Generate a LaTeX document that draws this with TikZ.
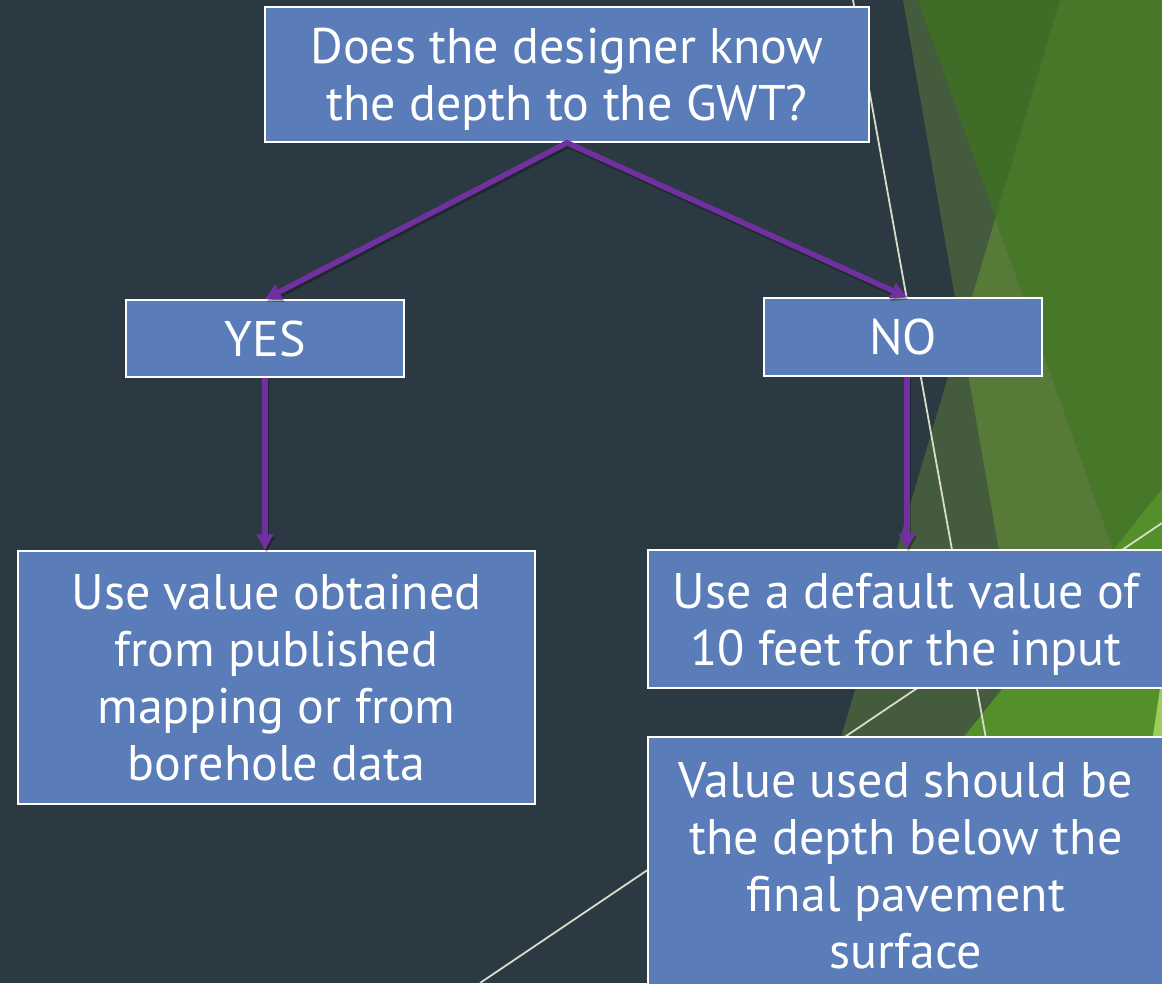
\documentclass[tikz,border=0pt]{standalone}
\usepackage{fontspec}
\setmainfont{PT Sans}
\usetikzlibrary{arrows.meta,calc}
\definecolor{bgslate}{HTML}{2B3A42}
\definecolor{grayg}{HTML}{445C3D}
\definecolor{oliveg}{HTML}{587A38}
\definecolor{darkg}{HTML}{3F6C26}
\definecolor{midg}{HTML}{47782A}
\definecolor{brightg}{HTML}{53902A}
\definecolor{lightg}{HTML}{9CCC5C}
\definecolor{linewhite}{HTML}{D8DCCB}
\definecolor{boxblue}{HTML}{5A7DBA}
\definecolor{arrowpurple}{HTML}{7030A0}
\tikzset{
  flowbox/.style={draw=white, line width=1.5pt, fill=boxblue, text=white, inner sep=0pt, align=center, text depth=0pt, font=\fontsize{50}{57}\selectfont},
  flowarrow/.style={draw=arrowpurple, line width=5.5pt, line join=miter},
  arrowshadow/.style={draw=black, opacity=0.3, line width=5.5pt, line join=miter, transform canvas={shift={(1.5pt,-2.5pt)}}},
  thinline/.style={draw=linewhite, line width=1.8pt}
}
\begin{document}
\begin{tikzpicture}[x=1pt,y=-1pt]
\useasboundingbox (0,0) rectangle (1162,983);
% background
\fill[bgslate] (0,0) rectangle (1162,983);
% green facets
\fill[grayg] (903,0) -- (1162,0) -- (1162,983) -- (1075,983) -- cycle;
\fill[grayg] (1060,0) -- (1162,0) -- (1162,983) -- (768,983) -- cycle;
\fill[oliveg] (995.5,218) -- (1162,687) -- (1162,983) -- (1075,983) -- (961,334) -- cycle;
\fill[darkg] (918,0) -- (1060,0) -- (995.5,218) -- cycle;
\fill[midg] (1060,0) -- (1162,0) -- (1162,687) -- (995.5,218) -- cycle;
\fill[brightg] (1162,489) -- (1162,983) -- (767,983) -- cycle;
\fill[lightg] (1162,675) -- (1162,983) -- (1116,983) -- cycle;
% thin lines
\coordinate (w1a) at (853,0);
\coordinate (w1b) at (1030,983);
\coordinate (w2a) at (480,983);
\coordinate (w2b) at (1162,523);
\draw[thinline] (w1a) -- (w1b);
\draw[thinline] (w2a) -- (w2b);
% boxes
\node[flowbox, minimum width=604pt, minimum height=135pt] (top) at (567,74.5) {Does the designer know\\the depth to the GWT?};
\node[flowbox, minimum width=278pt, minimum height=77pt] (yes) at (265,338.5) {YES};
\node[flowbox, minimum width=278pt, minimum height=78pt] (no) at (903,337) {NO};
\node[flowbox, minimum width=517pt, minimum height=253pt] (box4) at (276.5,677.5) {Use value obtained\\from published\\mapping or from\\borehole data};
\node[flowbox, minimum width=516pt, minimum height=138pt] (box5) at (906,619) {Use a default value of\\10 feet for the input};
\node[flowbox, minimum width=516pt, minimum height=256pt] (box6) at (906,865) {Value used should be\\the depth below the\\final pavement\\surface};
% arrows
\draw[arrowshadow, {Triangle[width=16pt,length=16pt]}-{Triangle[width=16pt,length=16pt]}] (yes.north) -- (top.south) -- ([xshift=4pt]no.north);
\draw[arrowshadow, -{Triangle[width=16pt,length=16pt]}] (yes.south) -- (yes.south |- box4.north);
\draw[arrowshadow, -{Triangle[width=16pt,length=16pt]}] ([xshift=4pt]no.south) -- ([xshift=4pt]no.south |- box5.north);
\draw[flowarrow, {Triangle[width=16pt,length=16pt]}-{Triangle[width=16pt,length=16pt]}] (yes.north) -- (top.south) -- ([xshift=4pt]no.north);
\draw[flowarrow, -{Triangle[width=16pt,length=16pt]}] (yes.south) -- (yes.south |- box4.north);
\draw[flowarrow, -{Triangle[width=16pt,length=16pt]}] ([xshift=4pt]no.south) -- ([xshift=4pt]no.south |- box5.north);
\end{tikzpicture}
\end{document}
